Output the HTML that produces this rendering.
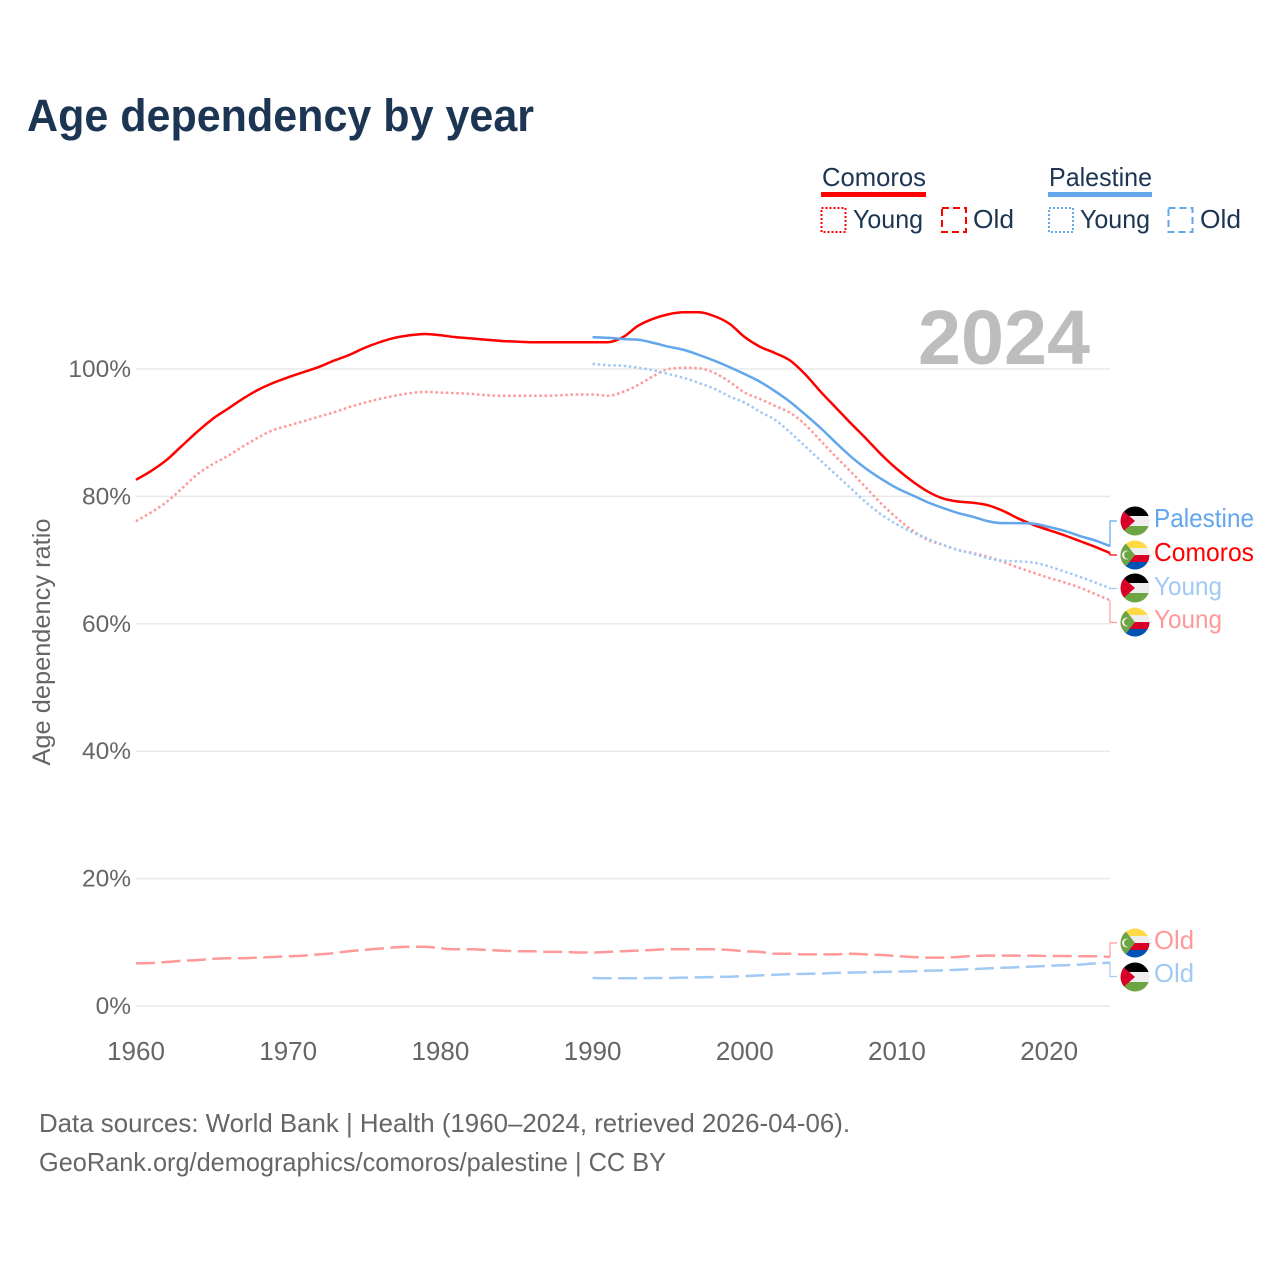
<!DOCTYPE html>
<html lang="en">
<head>
<meta charset="utf-8">
<title>Age dependency by year</title>
<style>
html,body{margin:0;padding:0;background:#fff}
svg{display:block}
text{font-family:"Liberation Sans",sans-serif}
</style>
</head>
<body>
<svg id="chart" width="1280" height="1280" viewBox="0 0 1280 1280" xmlns="http://www.w3.org/2000/svg">
<defs>
<clipPath id="flag-clip"><circle cx="0" cy="0" r="14.5"/></clipPath>
<symbol id="flag-pse" overflow="visible" viewBox="-15 -15 30 30" width="30" height="30">
<g clip-path="url(#flag-clip)">
<rect x="-15" y="-15" width="30" height="10" fill="#000"/>
<rect x="-15" y="-5" width="30" height="10" fill="#eee"/>
<rect x="-15" y="5" width="30" height="10" fill="#6da544"/>
<path d="M-15,-13 L0,0 L-15,13 Z" fill="#d80027"/>
</g>
</symbol>
<symbol id="flag-com" overflow="visible" viewBox="-15 -15 30 30" width="30" height="30">
<g clip-path="url(#flag-clip)">
<rect x="-15" y="-15" width="30" height="8" fill="#ffda44"/>
<rect x="-15" y="-7" width="30" height="7" fill="#eee"/>
<rect x="-15" y="0" width="30" height="7" fill="#d80027"/>
<rect x="-15" y="7" width="30" height="8" fill="#0052b4"/>
<path d="M-15,-15 L-12,-15 L0,0 L-12,15 L-15,15 Z" fill="#6da544"/>
<circle cx="-8.5" cy="0" r="4.5" fill="#eee"/>
<circle cx="-7" cy="0" r="3.9" fill="#6da544"/>
</g>
</symbol>
</defs>

<rect x="0" y="0" width="1280" height="1280" fill="#fff"/>

<text x="27" y="131" font-size="45" font-weight="700" fill="#1b3553" textLength="507" lengthAdjust="spacingAndGlyphs">Age dependency by year</text>

<g>
<text x="822" y="186" font-size="26" fill="#1b3553" textLength="104" lengthAdjust="spacingAndGlyphs">Comoros</text>
<rect x="821" y="192" width="105" height="5" fill="#ff0000"/>
<rect x="821.5" y="208" width="24" height="24" fill="none" stroke="#ff0000" stroke-width="2" stroke-dasharray="2 2"/>
<text x="853" y="228" font-size="26" fill="#1b3553" textLength="70" lengthAdjust="spacingAndGlyphs">Young</text>
<rect x="942" y="208" width="24" height="24" fill="none" stroke="#ff0000" stroke-width="2" stroke-dasharray="7 4"/>
<text x="973" y="228" font-size="26" fill="#1b3553" textLength="41" lengthAdjust="spacingAndGlyphs">Old</text>

<text x="1049" y="186" font-size="26" fill="#1b3553" textLength="103" lengthAdjust="spacingAndGlyphs">Palestine</text>
<rect x="1048" y="192" width="104" height="5" fill="#62a6ec"/>
<rect x="1049" y="208" width="24" height="24" fill="none" stroke="#62a6ec" stroke-width="2" stroke-dasharray="2 2"/>
<text x="1080" y="228" font-size="26" fill="#1b3553" textLength="70" lengthAdjust="spacingAndGlyphs">Young</text>
<rect x="1168.5" y="208" width="24" height="24" fill="none" stroke="#62a6ec" stroke-width="2" stroke-dasharray="7 4"/>
<text x="1200" y="228" font-size="26" fill="#1b3553" textLength="41" lengthAdjust="spacingAndGlyphs">Old</text>
</g>

<g id="grid"></g>
<text x="918" y="364" font-size="77" font-weight="700" fill="#bdbdbd" textLength="172" lengthAdjust="spacingAndGlyphs">2024</text>
<g id="y-axis"></g>
<g id="x-axis"></g>
<text transform="translate(50,642) rotate(-90)" text-anchor="middle" font-size="25" fill="#666" textLength="247" lengthAdjust="spacingAndGlyphs">Age dependency ratio</text>
<g id="series"></g>
<g id="connectors"></g>

<g>
<use href="#flag-pse" x="1120" y="506"/>
<text x="1154" y="527" font-size="26" fill="#62a6ec" textLength="100" lengthAdjust="spacingAndGlyphs">Palestine</text>
<use href="#flag-com" x="1120" y="540"/>
<text x="1154" y="561" font-size="26" fill="#ff0000" textLength="100" lengthAdjust="spacingAndGlyphs">Comoros</text>
<use href="#flag-pse" x="1120" y="573"/>
<text x="1154" y="595" font-size="26" fill="#a1c9f4" textLength="68" lengthAdjust="spacingAndGlyphs">Young</text>
<use href="#flag-com" x="1120" y="607"/>
<text x="1154" y="628" font-size="26" fill="#ff9999" textLength="68" lengthAdjust="spacingAndGlyphs">Young</text>
<use href="#flag-com" x="1120" y="928"/>
<text x="1154" y="949" font-size="26" fill="#ff9999" textLength="40" lengthAdjust="spacingAndGlyphs">Old</text>
<use href="#flag-pse" x="1120" y="962"/>
<text x="1154" y="982" font-size="26" fill="#a1c9f4" textLength="40" lengthAdjust="spacingAndGlyphs">Old</text>
</g>

<text x="39" y="1132" font-size="26" fill="#666" textLength="811" lengthAdjust="spacingAndGlyphs">Data sources: World Bank | Health (1960–2024, retrieved 2026-04-06).</text>
<text x="39" y="1171" font-size="26" fill="#666" textLength="627" lengthAdjust="spacingAndGlyphs">GeoRank.org/demographics/comoros/palestine | CC BY</text>
</svg>

<script>
const xTickYears = [1960, 1970, 1980, 1990, 2000, 2010, 2020];
const yTickValues = [0, 20, 40, 60, 80, 100];
const comorosStartYear = 1960;
const palestineStartYear = 1990;

const comorosTotal = [
  82.6, 84.0, 85.7, 87.9, 90.1, 92.1, 93.7, 95.3, 96.7, 97.8,
  98.7, 99.5, 100.3, 101.3, 102.2, 103.3, 104.2, 104.9, 105.3, 105.5,
  105.3, 105.0, 104.8, 104.6, 104.4, 104.3, 104.2, 104.2, 104.2, 104.2,
  104.2, 104.2, 105.0, 106.8, 107.9, 108.6, 108.9, 108.9, 108.3, 107.1,
  105.0, 103.5, 102.5, 101.3, 99.1, 96.4, 93.9, 91.4, 89.0, 86.5,
  84.3, 82.4, 80.8, 79.7, 79.2, 79.0, 78.6, 77.7, 76.5, 75.5,
  74.7, 73.9, 73.0, 72.1, 71.1
];
const comorosYoung = [
  76.1, 77.5, 79.1, 81.2, 83.4, 85.0, 86.3, 87.8, 89.2, 90.4,
  91.1, 91.8, 92.5, 93.2, 94.0, 94.7, 95.3, 95.8, 96.2, 96.4,
  96.3, 96.2, 96.1, 95.9, 95.8, 95.8, 95.8, 95.8, 95.9, 96.0,
  96.0, 95.8, 96.4, 97.5, 98.9, 100.0, 100.2, 100.1, 99.4, 98.0,
  96.3, 95.3, 94.2, 93.1, 91.2, 88.7, 86.2, 83.8, 81.3, 78.8,
  76.6, 74.7, 73.2, 72.4, 71.6, 71.1, 70.5, 69.7, 68.8, 68.0,
  67.2, 66.5, 65.7, 64.7, 63.7
];
const comorosOld = [
  6.7, 6.75, 6.9, 7.1, 7.2, 7.4, 7.5, 7.5, 7.6, 7.7,
  7.8, 7.9, 8.1, 8.3, 8.6, 8.8, 9.0, 9.2, 9.3, 9.3,
  9.05, 8.9, 8.9, 8.8, 8.7, 8.6, 8.6, 8.5, 8.5, 8.4,
  8.4, 8.5, 8.6, 8.7, 8.8, 8.9, 8.9, 8.9, 8.9, 8.8,
  8.6, 8.5, 8.2, 8.2, 8.1, 8.1, 8.1, 8.2, 8.1, 8.0,
  7.85, 7.7, 7.6, 7.6, 7.7, 7.85, 7.9, 7.9, 7.9, 7.9,
  7.85, 7.85, 7.8, 7.8, 7.7
];
const palestineTotal = [
  105.0, 104.9, 104.7, 104.6, 104.1, 103.5, 103.0, 102.2, 101.3, 100.3,
  99.2, 98.0, 96.5, 94.8, 92.8, 90.7, 88.4, 86.2, 84.3, 82.7,
  81.3, 80.2, 79.1, 78.2, 77.4, 76.8, 76.1, 75.8, 75.8, 75.7,
  75.2, 74.6, 73.8, 73.1, 72.2
];
const palestineYoung = [
  100.8, 100.6, 100.5, 100.2, 99.8, 99.2, 98.6, 97.8, 96.9, 95.7,
  94.7, 93.3, 92.0, 90.0, 87.8, 85.6, 83.4, 81.2, 79.0, 77.1,
  75.6, 74.4, 73.4, 72.4, 71.6, 71.0, 70.3, 69.9, 69.8, 69.6,
  69.0, 68.2, 67.4, 66.5, 65.6
];
const palestineOld = [
  4.4, 4.35, 4.35, 4.35, 4.4, 4.4, 4.45, 4.5, 4.55, 4.6,
  4.7, 4.8, 4.9, 5.0, 5.05, 5.1, 5.2, 5.25, 5.3, 5.35,
  5.4, 5.45, 5.55, 5.6, 5.7, 5.8, 5.9, 6.0, 6.1, 6.2,
  6.3, 6.4, 6.5, 6.7, 6.8
];

const SVG_NS = 'http://www.w3.org/2000/svg';
function xScale(year) { return 136 + (year - 1960) * (1110 - 136) / 64; }
function yScale(value) { return 1006 - value * 6.37; }

/* monotone cubic curve through the data points */
function linePath(values, startYear) {
  const xs = values.map(function (v, i) { return xScale(startYear + i); });
  const ys = values.map(yScale);
  const n = values.length;
  const slopes = [];
  for (let i = 0; i < n - 1; i++) slopes.push((ys[i + 1] - ys[i]) / (xs[i + 1] - xs[i]));
  const tangents = [slopes[0]];
  for (let i = 1; i < n - 1; i++) {
    const a = slopes[i - 1], b = slopes[i];
    if (a * b <= 0) {
      tangents.push(0);
    } else {
      const s = a > 0 ? 1 : -1;
      tangents.push(s * Math.min(2 * Math.abs(a), 2 * Math.abs(b), 0.5 * Math.abs(a + b)));
    }
  }
  tangents.push(slopes[n - 2]);
  let d = 'M' + xs[0].toFixed(2) + ',' + ys[0].toFixed(2);
  for (let i = 0; i < n - 1; i++) {
    const h = (xs[i + 1] - xs[i]) / 3;
    d += ' C' + (xs[i] + h).toFixed(2) + ',' + (ys[i] + tangents[i] * h).toFixed(2) +
         ' ' + (xs[i + 1] - h).toFixed(2) + ',' + (ys[i + 1] - tangents[i + 1] * h).toFixed(2) +
         ' ' + xs[i + 1].toFixed(2) + ',' + ys[i + 1].toFixed(2);
  }
  return d;
}
function make(tag, parentId) {
  const el = document.createElementNS(SVG_NS, tag);
  document.getElementById(parentId).appendChild(el);
  return el;
}
function styleLine(el, d, color, dash) {
  el.setAttribute('d', d);
  el.setAttribute('fill', 'none');
  el.setAttribute('stroke', color);
  el.setAttribute('stroke-width', '2.5');
  el.setAttribute('stroke-linejoin', 'round');
  if (dash) el.setAttribute('stroke-dasharray', dash);
}

yTickValues.forEach(function (v) {
  const line = make('line', 'grid');
  
  
  line.setAttribute('x1', 136);
  line.setAttribute('x2', 1110);
  line.setAttribute('y1', yScale(v));
  line.setAttribute('y2', yScale(v));
  line.setAttribute('stroke', '#e9e9e9');
  line.setAttribute('stroke-width', '1.5');

  const label = make('text', 'y-axis');
  
  
  label.setAttribute('x', 131);
  label.setAttribute('y', yScale(v) + 8);
  label.setAttribute('text-anchor', 'end');
  label.setAttribute('font-size', '24.5');
  label.setAttribute('fill', '#666');
  label.textContent = v + '%';
});

xTickYears.forEach(function (year) {
  const label = make('text', 'x-axis');
  
  
  label.setAttribute('x', xScale(year));
  label.setAttribute('y', 1060);
  label.setAttribute('text-anchor', 'middle');
  label.setAttribute('font-size', '26');
  label.setAttribute('fill', '#666');
  label.textContent = year;
});

const comorosOldLine = make('path', 'series');


styleLine(comorosOldLine, linePath(comorosOld, comorosStartYear), '#ff9999', '19 6.5');

const palestineOldLine = make('path', 'series');


styleLine(palestineOldLine, linePath(palestineOld, palestineStartYear), '#a1c9f4', '19 6.5');

const comorosYoungLine = make('path', 'series');


styleLine(comorosYoungLine, linePath(comorosYoung, comorosStartYear), '#ff9999', '2.5 2.7');

const palestineYoungLine = make('path', 'series');


styleLine(palestineYoungLine, linePath(palestineYoung, palestineStartYear), '#a1c9f4', '2.5 2.7');

const comorosTotalLine = make('path', 'series');


styleLine(comorosTotalLine, linePath(comorosTotal, comorosStartYear), '#ff0000', '');

const palestineTotalLine = make('path', 'series');


styleLine(palestineTotalLine, linePath(palestineTotal, palestineStartYear), '#62a6ec', '');

function connectorPath(values, labelY) {
  const endY = yScale(values[values.length - 1]).toFixed(2);
  return 'M1110,' + endY + ' L1110,' + labelY + ' L1117,' + labelY;
}
function styleConnector(el, d, color) {
  el.setAttribute('d', d);
  el.setAttribute('fill', 'none');
  el.setAttribute('stroke', color);
  el.setAttribute('stroke-width', '1.2');
}

const connPalTotal = make('path', 'connectors');


styleConnector(connPalTotal, connectorPath(palestineTotal, 521), '#62a6ec');

const connComTotal = make('path', 'connectors');


styleConnector(connComTotal, connectorPath(comorosTotal, 555), '#ff0000');

const connPalYoung = make('path', 'connectors');


styleConnector(connPalYoung, connectorPath(palestineYoung, 588.5), '#a1c9f4');

const connComYoung = make('path', 'connectors');


styleConnector(connComYoung, connectorPath(comorosYoung, 622.5), '#ff9999');

const connComOld = make('path', 'connectors');


styleConnector(connComOld, connectorPath(comorosOld, 943), '#ff9999');

const connPalOld = make('path', 'connectors');


styleConnector(connPalOld, connectorPath(palestineOld, 976.5), '#a1c9f4');
</script>
</body>
</html>
